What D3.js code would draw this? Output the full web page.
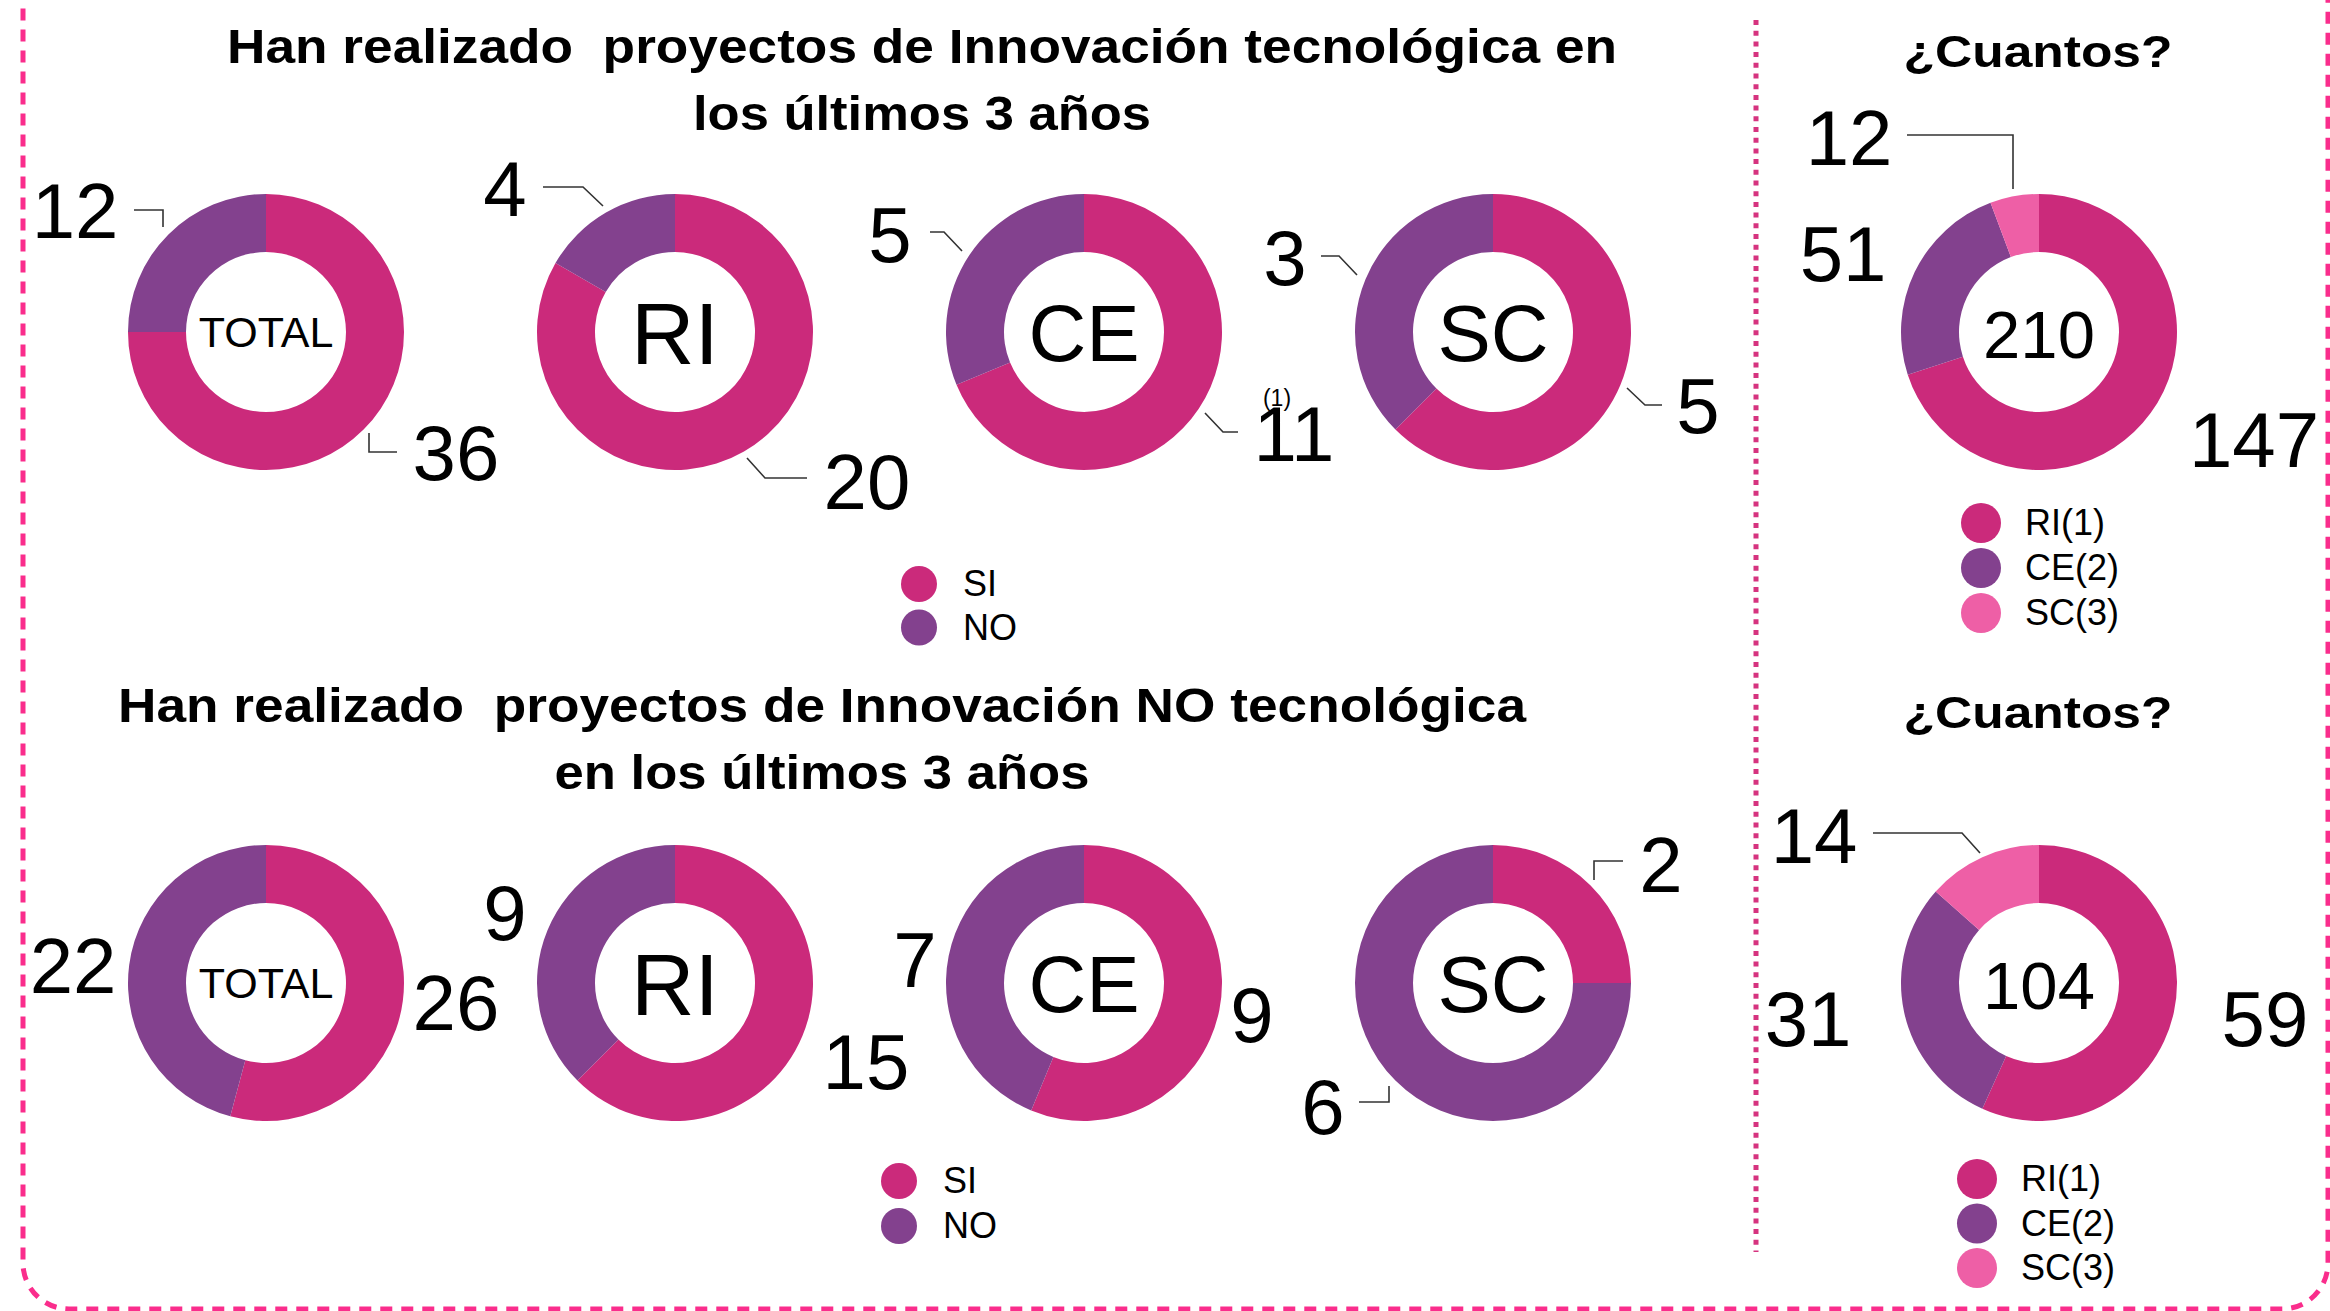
<!DOCTYPE html>
<html lang="es">
<head>
    <meta charset="UTF-8">
    <title>Innovacion</title>
    <style>
        body { margin: 0; background: #fff; }
        text { font-family: "Liberation Sans", Arial, Helvetica, sans-serif; fill: #000; white-space: pre; }
    </style>
</head>
<body>

<script src="https://d3js.org/d3.v7.min.js"></script>
<script>

    // data
    var groups = ["TOTAL", "RI", "CE", "SC"];
    var answers = ["SI", "NO"];
    var tecSi = [36, 20, 11, 5];
    var tecNo = [12, 4, 5, 3];
    var noTecSi = [26, 15, 9, 2];
    var noTecNo = [22, 9, 7, 6];

    var kinds = ["RI(1)", "CE(2)", "SC(3)"];
    var cuantosTec = [147, 51, 12];
    var cuantosNoTec = [59, 31, 14];

    var width = 2330,
        height = 1311,
        outerR = 138,
        innerR = 80,
        topY = 332,
        bottomY = 983,
        rightX = 2039;

    var siNoColor = d3.scaleOrdinal().domain(answers).range(["#cb2a7b", "#83418e"]);
    var kindColor = d3.scaleOrdinal().domain(kinds).range(["#cb2a7b", "#83418e", "#ee5fa6"]);

    // group centres along the row
    var xGroup = d3.scalePoint()
        .domain(groups)
        .range([266, 1493]);

    // label offsets from each donut centre, [SI, NO] / [RI, CE, SC]
    var topLabels = [
        [[190, 148], [-191, -94]],
        [[192, 177], [-170, -116]],
        [[210, 129], [-194, -70]],
        [[205, 101], [-208, -47]]
    ];
    var bottomLabels = [
        [[190, 47], [-193, 10]],
        [[191, 106], [-170, -43]],
        [[168, 59], [-169, 4]],
        [[168, -91], [-170, 151]]
    ];
    var rightTopLabels = [[215, 135], [-196, -51], [-190, -167]];
    var rightBottomLabels = [[226, 63], [-231, 63], [-225, -120]];

    // leader lines (offsets from donut centre)
    var topLeaders = [
        [[[103, 101], [103, 120], [131, 120]], [[-132, -122], [-103, -122], [-103, -105]]],
        [[[72, 126], [90, 146], [132, 146]], [[-132, -145], [-92, -145], [-72, -126]]],
        [[[121, 81], [139, 100], [154, 100]], [[-154, -100], [-140, -100], [-122, -81]]],
        [[[134, 56], [152, 73], [169, 73]], [[-172, -76], [-154, -76], [-136, -57]]]
    ];
    var bottomLeaders = [
        [null, null],
        [null, null],
        [null, null],
        [[[101, -103], [101, -122], [130, -122]], [[-134, 119], [-104, 119], [-104, 103]]]
    ];
    var rightTopLeaders = [null, null, [[-132, -197], [-26, -197], [-26, -143]]];
    var rightBottomLeaders = [null, null, [[-166, -150], [-77, -150], [-59, -130]]];

    var centreSize = {"TOTAL": 43, "RI": 88, "CE": 80, "SC": 80};

    var svg = d3.select("body")
        .append("svg")
        .attr("width", width)
        .attr("height", height);

    svg.append("rect")
        .attr("width", width)
        .attr("height", height)
        .attr("fill", "#fff");

    // dashed frame, top edge is off the picture
    svg.append("rect")
        .attr("x", 23)
        .attr("y", -80)
        .attr("width", 2305)
        .attr("height", 1389)
        .attr("rx", 46)
        .attr("fill", "none")
        .attr("stroke", "#fa2d8c")
        .attr("stroke-width", 5)
        .attr("stroke-dasharray", "12 9");

    // dotted divider
    svg.append("line")
        .attr("x1", 1756).attr("x2", 1756)
        .attr("y1", 20).attr("y2", 1252)
        .attr("stroke", "#d6337f")
        .attr("stroke-width", 5)
        .attr("stroke-dasharray", "5 5.7");

    var pie = d3.pie().sort(null).value(function (d) { return d.value; });
    var arc = d3.arc().innerRadius(innerR).outerRadius(outerR);
    var line = d3.line();

    function donut(cx, cy, values, names, color, labels, leaders, centreText, centreFs, centreDy) {
        var g = svg.append("g").attr("transform", "translate(" + cx + "," + cy + ")");
        var rows = values.map(function (v, i) { return {name: names[i], value: v}; });

        g.selectAll("path.slice")
            .data(pie(rows))
            .enter()
            .append("path")
            .attr("class", "slice")
            .attr("d", arc)
            .attr("fill", function (d) { return color(d.data.name); });

        g.selectAll("path.leader")
            .data(leaders.filter(function (l) { return l; }))
            .enter()
            .append("path")
            .attr("class", "leader")
            .attr("d", line)
            .attr("fill", "none")
            .attr("stroke", "#333")
            .attr("stroke-width", 1.6);

        g.selectAll("text.value")
            .data(rows)
            .enter()
            .append("text")
            .attr("class", "value")
            .attr("x", function (d, i) { return labels[i][0]; })
            .attr("y", function (d, i) { return labels[i][1]; })
            .attr("text-anchor", "middle")
            .attr("font-size", "78px")
            .text(function (d) { return d.value; });

        g.append("text")
            .attr("y", centreDy)
            .attr("text-anchor", "middle")
            .attr("font-size", centreFs + "px")
            .text(centreText);
        return g;
    }

    function title(lines, cx, y0, lengths) {
        svg.append("g").selectAll("text")
            .data(lines)
            .enter()
            .append("text")
            .attr("x", cx)
            .attr("y", function (d, i) { return y0 + i * 67; })
            .attr("text-anchor", "middle")
            .attr("font-size", "49px")
            .attr("font-weight", "bold")
            .attr("textLength", function (d, i) { return lengths[i]; })
            .attr("lengthAdjust", "spacingAndGlyphs")
            .text(function (d) { return d; });
    }

    function legend(names, color, x, y, step, r) {
        var g = svg.append("g");
        g.selectAll("circle")
            .data(names)
            .enter()
            .append("circle")
            .attr("cx", x)
            .attr("cy", function (d, i) { return y + i * step; })
            .attr("r", r)
            .attr("fill", function (d) { return color(d); });
        g.selectAll("text")
            .data(names)
            .enter()
            .append("text")
            .attr("x", x + 44)
            .attr("y", function (d, i) { return y + i * step + 12; })
            .attr("font-size", "36px")
            .text(function (d) { return d; });
    }

    // left block: SI / NO per group
    title(["Han realizado  proyectos de Innovación tecnológica en", "los últimos 3 años"], 922, 63, [1390, 458]);
    title(["Han realizado  proyectos de Innovación NO tecnológica", "en los últimos 3 años"], 822, 722, [1408, 535]);

    groups.forEach(function (grp, i) {
        var fs = centreSize[grp];
        donut(xGroup(grp), topY, [tecSi[i], tecNo[i]], answers, siNoColor,
            topLabels[i], topLeaders[i], grp, fs, fs * 0.36);
        donut(xGroup(grp), bottomY, [noTecSi[i], noTecNo[i]], answers, siNoColor,
            bottomLabels[i], bottomLeaders[i], grp, fs, fs * 0.36);
    });

    // footnote mark above CE "11"
    svg.append("text")
        .attr("x", xGroup("CE") + 193)
        .attr("y", topY + 74)
        .attr("text-anchor", "middle")
        .attr("font-size", "23px")
        .text("(1)");

    legend(answers, siNoColor, 919, 584, 43.5, 18);
    legend(answers, siNoColor, 899, 1181, 45, 18);

    // right block: how many
    [67, 728].forEach(function (y) {
        svg.append("text")
            .attr("x", 2038)
            .attr("y", y)
            .attr("text-anchor", "middle")
            .attr("font-size", "45px")
            .attr("font-weight", "bold")
            .attr("textLength", 269)
            .attr("lengthAdjust", "spacingAndGlyphs")
            .text("¿Cuantos?");
    });

    donut(rightX, topY, cuantosTec, kinds, kindColor, rightTopLabels, rightTopLeaders,
        d3.sum(cuantosTec), 67, 26);
    donut(rightX, bottomY, cuantosNoTec, kinds, kindColor, rightBottomLabels, rightBottomLeaders,
        d3.sum(cuantosNoTec), 67, 26);

    legend(kinds, kindColor, 1981, 523, 45, 20);
    legend(kinds, kindColor, 1977, 1179, 44.5, 20);

</script>

</body>
</html>
